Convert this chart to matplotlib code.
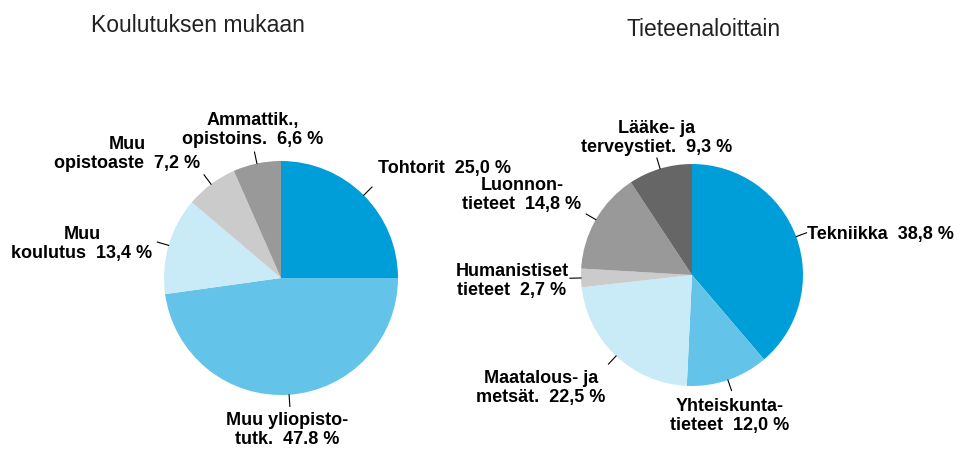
import numpy as np
import matplotlib
matplotlib.use("Agg")
import matplotlib.pyplot as plt

# Koulutuksen mukaan (share, %)
edu_labels = ["Tohtorit  25,0 %", "Muu yliopisto-\ntutk.  47.8 %", "Muu\nkoulutus  13,4 %",
              "Muu\nopistoaste  7,2 %", "Ammattik.,\nopistoins.  6,6 %"]
edu_values = [25.0, 47.8, 13.4, 7.2, 6.6]

# Tieteenaloittain (share, %)
field_labels = ["Tekniikka  38,8 %", "Yhteiskunta-\ntieteet  12,0 %", "Maatalous- ja\nmetsät.  22,5 %",
                "Humanistiset\ntieteet  2,7 %", "Luonnon-\ntieteet  14,8 %", "Lääke- ja\nterveystiet.  9,3 %"]
field_values = [38.8, 12.0, 22.5, 2.7, 14.8, 9.3]

edu_colors = ["#009ED9", "#63C3E8", "#C9EBF7", "#CBCBCB", "#999999"]
field_colors = ["#009ED9", "#63C3E8", "#C9EBF7", "#CBCBCB", "#999999", "#666666"]

plt.rcParams["font.family"] = ["Liberation Sans", "DejaVu Sans"]

W, H = 961, 450
fig = plt.figure(figsize=(W / 100, H / 100), dpi=100)
ax = fig.add_axes([0, 0, 1, 1])


def draw_pie(values, colors, labels, center, radius, label_pos):
    cx, cy = center[0], H - center[1]
    wedges, _ = ax.pie(values, colors=colors, startangle=90, counterclock=False,
                       center=(cx, cy), radius=radius, normalize=True,
                       wedgeprops=dict(linewidth=0))
    for w, lab, (px, py, ha) in zip(wedges, labels, label_pos):
        ang = np.deg2rad((w.theta1 + w.theta2) / 2)
        x0, y0 = cx + radius * np.cos(ang), cy + radius * np.sin(ang)
        x1, y1 = cx + radius * 1.1 * np.cos(ang), cy + radius * 1.1 * np.sin(ang)
        ax.plot([x0, x1], [y0, y1], color="black", lw=0.8)
        ax.text(px, H - py, lab, ha=ha, va="center", multialignment="center",
                fontsize=13, fontweight="bold", linespacing=1.2)


draw_pie(edu_values, edu_colors, edu_labels, (281, 278), 117,
         [(378, 169, "left"), (287, 430, "center"), (82, 244, "center"),
          (127, 154, "center"), (253, 130, "center")])
draw_pie(field_values, field_colors, field_labels, (692, 275), 111,
         [(807, 235, "left"), (730, 416, "center"), (541, 388, "center"),
          (512, 281, "center"), (522, 195, "center"), (657, 138, "center")])

ax.text(198, H - 26, "Koulutuksen mukaan", ha="center", va="center", fontsize=16.5, color="#222222")
ax.text(704, H - 30, "Tieteenaloittain", ha="center", va="center", fontsize=16.5, color="#222222")

ax.set_xlim(0, W)
ax.set_ylim(0, H)
ax.set_aspect("equal")
ax.axis("off")

fig.savefig("out.png", dpi=100)
